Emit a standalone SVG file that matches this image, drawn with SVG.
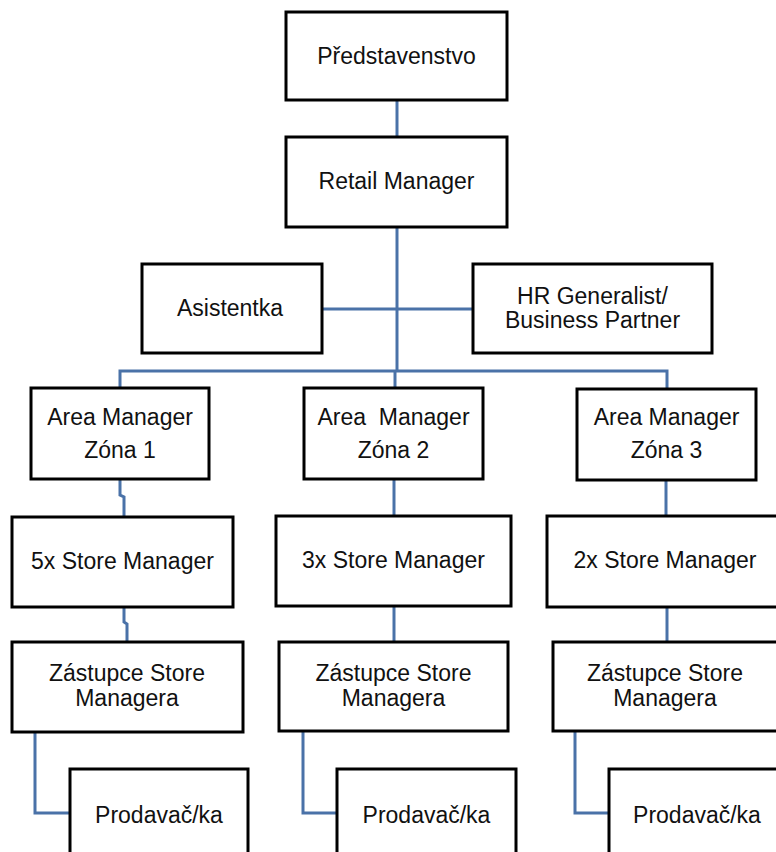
<svg xmlns="http://www.w3.org/2000/svg" width="776" height="852" viewBox="0 0 776 852">
<style>
.box{fill:#fff;stroke:#000;stroke-width:3}
.t{font-family:"Liberation Sans",Arial,sans-serif;font-size:23px;fill:#111;text-anchor:middle;white-space:pre}
.c{fill:none;stroke:#4a72a8;stroke-width:3}
</style>
<rect width="776" height="852" fill="#fff"/>
<g id="connectors">
<path class="c" d="M397 100V137"/>
<path class="c" d="M397 227V371"/>
<path class="c" d="M322 309H473"/>
<path class="c" d="M120 389V371H667V389"/>
<path class="c" d="M395 371V388"/>
<path class="c" d="M120 479V495L124 497V517"/>
<path class="c" d="M124 607V622L127 624V642"/>
<path class="c" d="M35 732V813H70"/>
<path class="c" d="M394 479V516"/>
<path class="c" d="M394 606V642"/>
<path class="c" d="M303 731V813H337"/>
<path class="c" d="M666 480V516"/>
<path class="c" d="M667 607V642"/>
<path class="c" d="M575 731V813H609"/>
</g>
<g id="predstavenstvo"><rect class="box" x="286" y="12" width="221" height="88"/><text class="t" x="396.5" y="64">Představenstvo</text></g>
<g id="retail-manager"><rect class="box" x="286" y="137" width="221" height="90"/><text class="t" x="396.5" y="189">Retail Manager</text></g>
<g id="asistentka"><rect class="box" x="142" y="264" width="180" height="89"/><text class="t" x="230" y="316">Asistentka</text></g>
<g id="hr"><rect class="box" x="473" y="264" width="239" height="89"/><text class="t" x="592.5" y="304">HR Generalist/</text><text class="t" x="592.5" y="328">Business Partner</text></g>
<g id="area1"><rect class="box" x="31" y="388" width="178" height="91"/><text class="t" x="120" y="425">Area Manager</text><text class="t" x="120" y="458">Zóna 1</text></g>
<g id="area2"><rect class="box" x="304" y="388" width="179" height="91"/><text class="t" x="393.5" y="425">Area  Manager</text><text class="t" x="393.5" y="458">Zóna 2</text></g>
<g id="area3"><rect class="box" x="577" y="389" width="179" height="91"/><text class="t" x="666.5" y="425">Area Manager</text><text class="t" x="666.5" y="458">Zóna 3</text></g>
<g id="sm1"><rect class="box" x="12" y="517" width="221" height="90"/><text class="t" x="122.5" y="569">5x Store Manager</text></g>
<g id="sm2"><rect class="box" x="276" y="516" width="235" height="90"/><text class="t" x="393.5" y="568">3x Store Manager</text></g>
<g id="sm3"><rect class="box" x="547" y="516" width="238" height="91"/><text class="t" x="665" y="568">2x Store Manager</text></g>
<g id="zast1"><rect class="box" x="12" y="642" width="231" height="90"/><text class="t" x="127" y="681">Zástupce Store</text><text class="t" x="127" y="706">Managera</text></g>
<g id="zast2"><rect class="box" x="279" y="642" width="229" height="89"/><text class="t" x="393.5" y="681">Zástupce Store</text><text class="t" x="393.5" y="706">Managera</text></g>
<g id="zast3"><rect class="box" x="553" y="642" width="226" height="89"/><text class="t" x="665" y="681">Zástupce Store</text><text class="t" x="665" y="706">Managera</text></g>
<g id="prod1"><rect class="box" x="70" y="769" width="178" height="95"/><text class="t" x="159" y="823">Prodavač/ka</text></g>
<g id="prod2"><rect class="box" x="337" y="769" width="179" height="95"/><text class="t" x="426.5" y="823">Prodavač/ka</text></g>
<g id="prod3"><rect class="box" x="609" y="769" width="176" height="95"/><text class="t" x="697" y="823">Prodavač/ka</text></g>
</svg>
